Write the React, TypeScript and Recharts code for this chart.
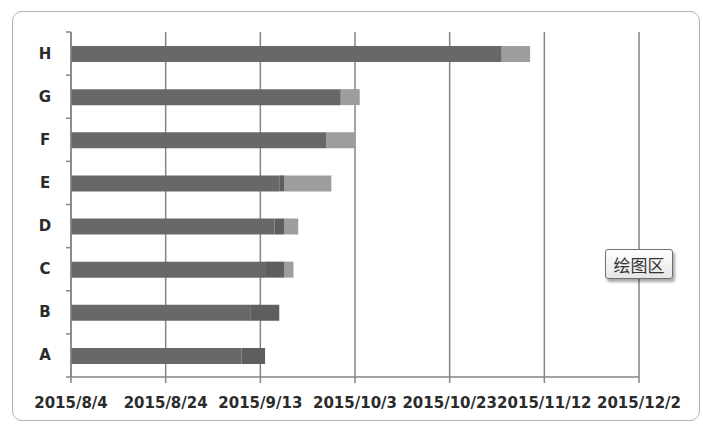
import React from 'react';
import { BarChart, Bar, XAxis, YAxis, CartesianGrid } from 'recharts';

// Gantt-style task chart: each task is a stacked bar measured in days from the axis start.
const START = Date.UTC(2015, 7, 4);
const categories = ['A', 'B', 'C', 'D', 'E', 'F', 'G', 'H'];
const doneDays = [36, 38, 41, 43, 44, 54, 57, 91];
const overlapDays = [5, 6, 4, 2, 1, 0, 0, 0];
const remainDays = [0, 0, 2, 3, 10, 6, 4, 6];
const axisTicks = [0, 20, 40, 60, 80, 100, 120];

const data = categories.map((name, i) => ({
  name,
  done: doneDays[i],
  overlap: overlapDays[i],
  remain: remainDays[i],
}));

const W = 703;
const H = 425;
const M = { top: 32, right: 64, bottom: 0, left: 0 };
const Y_AXIS_W = 71;
const X_AXIS_H = 48;
const PLOT_H = H - M.top - M.bottom - X_AXIS_H;
const BAND = PLOT_H / categories.length;

const AXIS = '#858585';
const FONT = '"DejaVu Sans", Verdana, sans-serif';

function fmtDate(v: number): string {
  const d = new Date(START + v * 86400000);
  return `${d.getUTCFullYear()}/${d.getUTCMonth() + 1}/${d.getUTCDate()}`;
}

// Category label at the band centre, tick marks on the band edges (Excel style).
function CatTick(props: any) {
  const { x, y, payload, index } = props;
  const axisX = x + 8;
  return (
    <g>
      <line x1={axisX - 5} x2={axisX} y1={y - BAND / 2} y2={y - BAND / 2} stroke={AXIS} strokeWidth={1.5} />
      {index === 0 && (
        <line x1={axisX - 5} x2={axisX} y1={y + BAND / 2} y2={y + BAND / 2} stroke={AXIS} strokeWidth={1.5} />
      )}
      <text x={45} y={y + 5} textAnchor="middle" fontSize={15} fontWeight="bold" fill="#2b2b2b" fontFamily={FONT}>
        {payload.value}
      </text>
    </g>
  );
}

export default function App() {
  return (
    <div style={{ position: 'absolute', left: 0, top: 0, width: W, height: H, background: '#fff', overflow: 'hidden' }}>
      <div
        style={{
          position: 'absolute', left: 12, top: 11, width: 688, height: 410,
          border: '1.5px solid #b4b4b4', borderRadius: 10, boxSizing: 'border-box',
        }}
      />
      <BarChart
        width={W}
        height={H}
        data={data}
        layout="vertical"
        margin={M}
        barSize={16}
        style={{ position: 'absolute', left: 0, top: 0 }}
      >
        <CartesianGrid horizontal={false} stroke={AXIS} strokeWidth={1.5} />
        <XAxis
          type="number"
          domain={[0, 120]}
          ticks={axisTicks}
          tickFormatter={fmtDate}
          height={X_AXIS_H}
          stroke={AXIS}
          strokeWidth={1.5}
          tickSize={6}
          tickMargin={14}
          tick={{ fontSize: 15, fontWeight: 'bold', fill: '#2b2b2b', fontFamily: FONT }}
          interval={0}
        />
        <YAxis
          type="category"
          dataKey="name"
          reversed
          width={Y_AXIS_W}
          stroke={AXIS}
          strokeWidth={1.5}
          tickLine={false}
          tick={<CatTick />}
        />
        <Bar dataKey="done" stackId="t" fill="#686868" isAnimationActive={false} />
        <Bar dataKey="overlap" stackId="t" fill="#5e5e5e" isAnimationActive={false} />
        <Bar dataKey="remain" stackId="t" fill="#9d9d9d" isAnimationActive={false} />
      </BarChart>
      <div
        style={{
          position: 'absolute', left: 605, top: 249, width: 68, height: 30, boxSizing: 'border-box',
          border: '1px solid #707070', borderRadius: 3,
          background: 'linear-gradient(#ffffff, #e6e6e6)',
          boxShadow: '2px 3px 3px rgba(0,0,0,0.35)',
          display: 'flex', alignItems: 'center', justifyContent: 'center',
          fontFamily: '"Noto Sans CJK SC", sans-serif', fontSize: 17, color: '#333',
        }}
      >
        绘图区
      </div>
    </div>
  );
}
